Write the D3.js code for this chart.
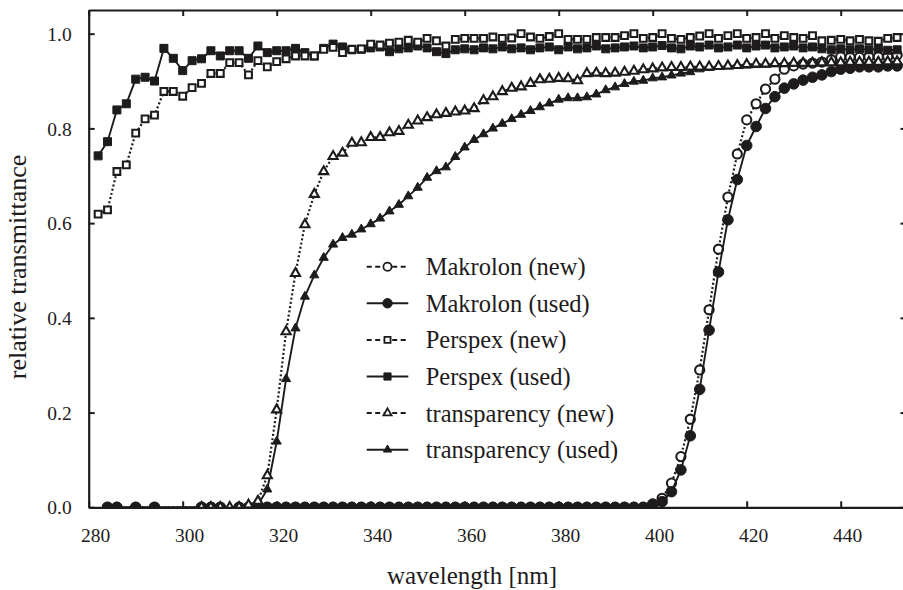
<!DOCTYPE html>
<html><head><meta charset="utf-8">
<script src="https://cdn.jsdelivr.net/npm/d3@7"></script>
<style>
body{margin:0;background:#fff}
svg{display:block}
</style>
</head><body>
<svg id="c" width="903" height="590"></svg>
<script>
// ---------------- data ----------------
const xTicks = [280,300,320,340,360,380,400,420,440];
const yTicks = [0,0.2,0.4,0.6,0.8,1.0];

const perspexWl = [282,284,286,288,290,292,294,296,298,300,302,304,306,308,310,312,314,316,318,320,
  322,324,326,328,330,332,334,336,338,340,342,344,346,348,350,352,354,356,358,360,
  362,364,366,368,370,372,374,376,378,380,382,384,386,388,390,392,394,396,398,400,
  402,404,406,408,410,412,414,416,418,420,422,424,426,428,430,432,434,436,438,440,
  442,444,446,448,450,452];
const perspexNew = [0.619,0.628,0.709,0.723,0.790,0.820,0.828,0.878,0.878,0.868,
  0.886,0.895,0.916,0.916,0.939,0.939,0.913,0.943,0.930,0.941,
  0.947,0.953,0.953,0.953,0.967,0.971,0.960,0.967,0.968,0.978,
  0.976,0.980,0.982,0.986,0.982,0.990,0.985,0.974,0.988,0.990,
  0.990,0.990,0.993,0.990,0.991,1.000,0.993,0.990,0.994,1.000,
  0.988,0.988,0.988,0.992,0.992,0.992,0.996,1.000,0.990,0.992,
  1.000,0.990,0.988,0.992,0.995,1.000,0.990,0.996,1.000,0.990,
  0.992,1.000,0.990,0.996,0.992,0.990,0.996,0.985,0.986,0.988,
  0.985,0.988,0.985,0.984,0.990,0.992];
const perspexUsed = [0.742,0.772,0.839,0.852,0.904,0.908,0.900,0.969,0.948,0.922,
  0.943,0.947,0.964,0.953,0.964,0.964,0.948,0.974,0.960,0.964,
  0.964,0.969,0.960,0.953,0.969,0.978,0.972,0.966,0.967,0.970,
  0.972,0.962,0.968,0.970,0.974,0.970,0.962,0.958,0.966,0.968,
  0.966,0.970,0.968,0.972,0.968,0.970,0.966,0.970,0.972,0.966,
  0.972,0.968,0.970,0.974,0.968,0.970,0.972,0.974,0.970,0.972,
  0.975,0.970,0.968,0.974,0.972,0.976,0.970,0.972,0.976,0.970,
  0.974,0.976,0.970,0.972,0.974,0.970,0.972,0.968,0.966,0.968,
  0.966,0.968,0.966,0.968,0.965,0.966];

const transWl = [304,306,308,310,312,314,316,318,320,322,
  324,326,328,330,332,334,336,338,340,342,
  344,346,348,350,352,354,356,358,360,362,
  364,366,368,370,372,374,376,378,380,382,
  384,386,388,390,392,394,396,398,400,402,
  404,406,408,410,412,414,416,418,420,422,
  424,426,428,430,432,434,436,438,440,442,
  444,446,448,450,452];
const transNew = [0,0,0,0,0,0.005,0.013,0.067,0.206,0.371,
  0.494,0.597,0.661,0.709,0.741,0.748,0.769,0.770,0.781,0.781,
  0.791,0.794,0.807,0.816,0.823,0.829,0.832,0.835,0.837,0.842,
  0.859,0.867,0.878,0.885,0.888,0.895,0.903,0.904,0.906,0.905,
  0.901,0.916,0.917,0.916,0.917,0.919,0.921,0.924,0.926,0.928,
  0.929,0.929,0.930,0.930,0.930,0.931,0.932,0.933,0.935,0.936,
  0.936,0.937,0.937,0.938,0.938,0.938,0.939,0.939,0.939,0.940,
  0.940,0.940,0.940,0.941,0.941];
const transUsed = [0,0,0,0,0,0,0.005,0.038,0.139,0.271,
  0.378,0.445,0.490,0.527,0.555,0.569,0.576,0.587,0.598,0.610,
  0.625,0.639,0.657,0.675,0.696,0.710,0.718,0.740,0.760,0.776,
  0.788,0.800,0.810,0.820,0.829,0.837,0.845,0.853,0.861,0.864,
  0.864,0.866,0.872,0.881,0.887,0.894,0.899,0.901,0.906,0.908,
  0.912,0.916,0.919,0.925,0.928,0.930,0.931,0.932,0.933,0.934,
  0.935,0.936,0.936,0.937,0.937,0.938,0.938,0.938,0.939,0.939,
  0.939,0.940,0.940,0.940,0.940];

const makWl = [284,286,290,294,304,306,308,312,314,
  316,318,320,322,324,326,328,330,332,334,336,338,340,342,344,346,348,350,352,354,356,358,
  360,362,364,366,368,370,372,374,376,378,380,382,384,386,388,390,392,394,396,398,
  400,402,404,406,408,410,412,414,416,418,420,422,424,426,428,430,432,434,436,438,440,
  442,444,446,448,450,452];
const makNew = [0,0,0,0,0,0,0,0,0,
  0,0,0,0,0,0,0,0,0,0,0,0,0,0,0,0,0,0,0,0,0,0,
  0,0,0,0,0,0,0,0,0,0,0,0,0,0,0,0,0,0,0,0,
  0.003,0.019,0.051,0.107,0.186,0.290,0.417,0.545,0.655,0.746,0.818,0.852,0.883,0.904,0.925,0.932,0.936,0.938,0.940,0.945,0.951,
  0.950,0.950,0.951,0.951,0.952,0.955];
const makUsed = [0,0,0,0,0,0,0,0,0,
  0,0,0,0,0,0,0,0,0,0,0,0,0,0,0,0,0,0,0,0,0,0,
  0,0,0,0,0,0,0,0,0,0,0,0,0,0,0,0,0,0,0,0,
  0.007,0.012,0.033,0.079,0.151,0.249,0.374,0.497,0.607,0.692,0.764,0.804,0.842,0.867,0.885,0.894,0.902,0.908,0.913,0.920,0.925,
  0.927,0.930,0.930,0.930,0.932,0.932];

const legendLabels = ["Makrolon (new)","Makrolon (used)","Perspex (new)","Perspex (used)","transparency (new)","transparency (used)"];

// ---------------- chart ----------------
const ink = "#1e1b1c";
const FONT = '"Liberation Serif", "Times New Roman", Times, "DejaVu Serif", serif';
const svg = d3.select("#c");
const x = d3.scaleLinear([280,454],[88.7,906.5]);
const y = d3.scaleLinear([0,1.05],[507.3,10]);

const zip = (a,b)=>a.map((v,i)=>[v,b[i]]);
const series = [
  {key:legendLabels[0], data:zip(makWl,makNew), shape:d3.symbolCircle, size:66, fill:"#fff", dash:true},
  {key:legendLabels[1], data:zip(makWl,makUsed), shape:d3.symbolCircle, size:88, fill:ink, dash:false},
  {key:legendLabels[3], data:zip(perspexWl,perspexUsed), shape:d3.symbolSquare, size:64, fill:ink, dash:false},
  {key:legendLabels[2], data:zip(perspexWl,perspexNew), shape:d3.symbolSquare, size:46, fill:"#fff", dash:true},
  {key:legendLabels[5], data:zip(transWl,transUsed), shape:d3.symbolTriangle, size:36, fill:ink, dash:false},
  {key:legendLabels[4], data:zip(transWl,transNew), shape:d3.symbolTriangle, size:36, fill:"#fff", dash:true}
];
const order = [0,1,3,2,5,4]; // legend order -> series index

svg.append("clipPath").attr("id","clip").append("rect")
  .attr("x",x(280)).attr("y",y(1.05)).attr("width",x(454)-x(280)).attr("height",y(0)-y(1.05));

const plot = svg.append("g").attr("clip-path","url(#clip)");
const line = d3.line().x(d=>x(d[0])).y(d=>y(d[1]));

series.forEach(s=>{
  const g = plot.append("g");
  g.append("path").attr("d",line(s.data)).attr("fill","none").attr("stroke",ink)
    .attr("stroke-width",s.dash?2.2:1.9).attr("stroke-dasharray",s.dash?"2,2.3":null);
  g.selectAll("path.m").data(s.data).join("path").attr("class","m")
    .attr("transform",d=>`translate(${x(d[0])},${y(d[1])})`)
    .attr("d",d3.symbol(s.shape,s.size))
    .attr("fill",s.fill).attr("stroke",ink).attr("stroke-width",s.fill==="#fff"?2.1:1);
});

// axes
function styleAxis(g){
  g.attr("font-family",FONT).attr("font-size",19.5);
  g.select(".domain").attr("stroke",ink).attr("stroke-width",2.2);
  g.selectAll(".tick line").attr("stroke",ink).attr("stroke-width",2);
  g.selectAll(".tick text").attr("fill",ink).attr("font-family",FONT).attr("font-size",19.5);
}
svg.append("g").attr("transform",`translate(0,${y(0)})`)
  .call(d3.axisBottom(x).tickValues(xTicks).tickSize(-6).tickSizeOuter(0).tickPadding(20.5))
  .call(styleAxis).call(g=>g.selectAll(".tick text").attr("dx",6.5));
svg.append("g").attr("transform",`translate(0,${y(1.05)})`)
  .call(d3.axisTop(x).tickValues(xTicks).tickSize(-6).tickSizeOuter(0).tickFormat(""))
  .call(styleAxis);
svg.append("g").attr("transform",`translate(${x(280)},0)`)
  .call(d3.axisLeft(y).tickValues(yTicks).tickSize(-6).tickSizeOuter(0).tickPadding(17).tickFormat(d3.format(".1f")))
  .call(styleAxis).call(g=>g.selectAll(".tick text").attr("dy","0.34em"));
svg.append("g").attr("transform",`translate(${x(454)},0)`)
  .call(d3.axisRight(y).tickValues(yTicks).tickSize(-6).tickSizeOuter(0).tickFormat(""))
  .call(styleAxis);

// titles
svg.append("text").attr("x",472).attr("y",584).attr("text-anchor","middle")
  .attr("font-family",FONT).attr("font-size",25).attr("fill",ink).text("wavelength [nm]");
svg.append("text").attr("transform","translate(26,267) rotate(-90)").attr("text-anchor","middle")
  .attr("font-family",FONT).attr("font-size",26).attr("fill",ink).text("relative transmittance");

// legend
const lg = svg.append("g");
order.forEach((si,i)=>{
  const s = series[si];
  const ly = 266.7 + i*36.6;
  lg.append("line").attr("x1",366.7).attr("x2",408.3).attr("y1",ly).attr("y2",ly)
    .attr("stroke",ink).attr("stroke-width",2).attr("stroke-dasharray",s.dash?"5,3.5":null);
  lg.append("path").attr("transform",`translate(387.5,${ly})`)
    .attr("d",d3.symbol(s.shape,s.size*0.8)).attr("fill",s.fill).attr("stroke",ink)
    .attr("stroke-width",s.fill==="#fff"?1.8:1);
  lg.append("text").attr("x",425.7).attr("y",ly+8.5)
    .attr("font-family",FONT).attr("font-size",24.5).attr("fill",ink).text(s.key);
});
</script>
</body></html>
